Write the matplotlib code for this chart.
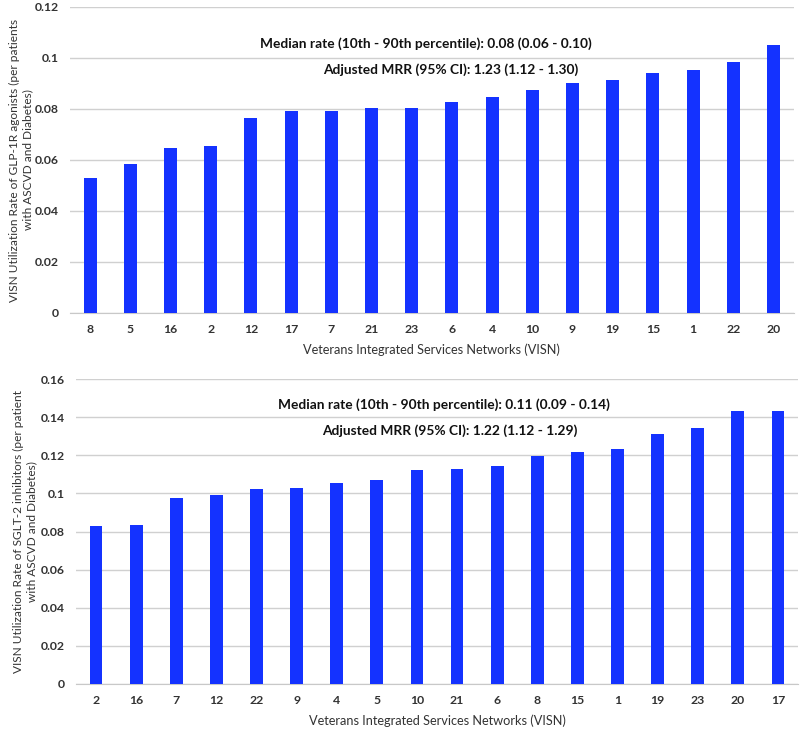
import matplotlib
matplotlib.use("Agg")
import matplotlib.pyplot as plt
from matplotlib.ticker import FuncFormatter

plt.rcParams['font.family'] = ['Lato', 'DejaVu Sans']

glp_visn = ['8', '5', '16', '2', '12', '17', '7', '21', '23', '6', '4', '10', '9', '19', '15', '1', '22', '20']
glp_rate = [0.053, 0.0585, 0.0647, 0.0655, 0.0765, 0.0791, 0.0791, 0.0804, 0.0804, 0.0826,
            0.0848, 0.0875, 0.0901, 0.0914, 0.094, 0.0953, 0.0983, 0.105]
glp_ticks = [0, 0.02, 0.04, 0.06, 0.08, 0.1, 0.12]

sglt_visn = ['2', '16', '7', '12', '22', '9', '4', '5', '10', '21', '6', '8', '15', '1', '19', '23', '20', '17']
sglt_rate = [0.0829, 0.0834, 0.0976, 0.0993, 0.1023, 0.1028, 0.1053, 0.107, 0.1123, 0.1128,
             0.1145, 0.1198, 0.1217, 0.1233, 0.131, 0.1345, 0.1434, 0.1434]
sglt_ticks = [0, 0.02, 0.04, 0.06, 0.08, 0.1, 0.12, 0.14, 0.16]

xlabel = 'Veterans Integrated Services Networks (VISN)'
glp_ylabel = 'VISN Utilization Rate of GLP-1R agonists (per patients\nwith ASCVD and Diabetes)'
sglt_ylabel = 'VISN Utilization Rate of SGLT-2 inhibitors (per patient\nwith ASCVD and Diabetes)'
glp_notes = ['Median rate (10th - 90th percentile): 0.08 (0.06 - 0.10)',
             'Adjusted MRR (95% CI): 1.23 (1.12 - 1.30)']
sglt_notes = ['Median rate (10th - 90th percentile): 0.11 (0.09 - 0.14)',
              'Adjusted MRR (95% CI): 1.22 (1.12 - 1.29)']

BAR = '#1432FF'
TXT = '#333333'
W, H = 800, 731
fig = plt.figure(figsize=(W / 100, H / 100), dpi=100)

def fmt(v, pos):
    return ('%.2f' % v).rstrip('0').rstrip('.')

def panel(rect, cats, vals, ticks, ylabel, notes, note_px, ylab_x):
    ax = fig.add_axes(rect)
    x = list(range(len(cats)))
    ax.bar(x, vals, width=0.32, color=BAR, zorder=3)
    ax.set_xlim(-0.5, len(cats) - 0.5)
    ax.set_ylim(ticks[0], ticks[-1])
    ax.set_yticks(ticks)
    ax.yaxis.set_major_formatter(FuncFormatter(fmt))
    ax.set_xticks(x)
    ax.set_xticklabels(cats)
    for s in ['top', 'right', 'left']:
        ax.spines[s].set_visible(False)
    ax.spines['bottom'].set_color('#c8c8c8')
    ax.grid(axis='y', color='#d0d0d0', linewidth=1, zorder=0)
    ax.tick_params(length=0, labelsize=8.8, colors=TXT, pad=8)
    for lab in ax.get_xticklabels() + ax.get_yticklabels():
        lab.set_fontweight('bold')
    ax.set_xlabel(xlabel, fontsize=9.2, color=TXT, labelpad=6)
    ax.set_ylabel(ylabel, fontsize=8.6, color=TXT, linespacing=1.25)
    ax.yaxis.set_label_coords(ylab_x, 0.5)
    for (cx, cy), t in zip(note_px, notes):
        fig.text(cx / W, 1 - cy / H, t, ha='center', va='center', fontsize=9.9,
                 fontweight='bold', color='#111111')
    return ax

panel([70 / W, 1 - 313 / H, 723.6 / W, 306 / H], glp_visn, glp_rate, glp_ticks,
      glp_ylabel, glp_notes, [(426, 44), (451, 70)], (33 - 70) / 723.6)
panel([76 / W, 1 - 684 / H, 722 / W, 305 / H], sglt_visn, sglt_rate, sglt_ticks,
      sglt_ylabel, sglt_notes, [(444, 405), (450, 431)], (37 - 76) / 722)

fig.savefig('out.png', dpi=100)
